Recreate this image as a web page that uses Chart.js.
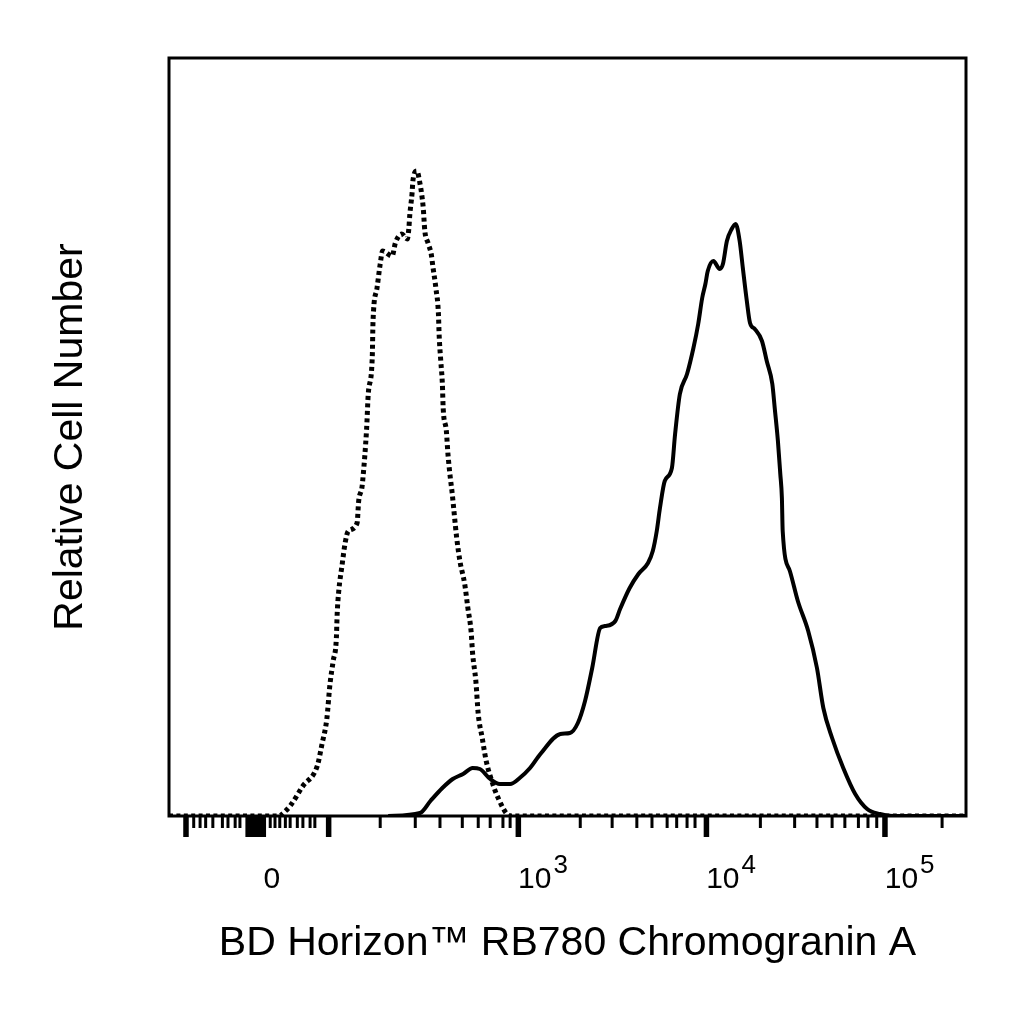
<!DOCTYPE html>
<html lang="en">
  <head>
    <meta charset="UTF-8" />
    <title>RB780 Chromogranin A histogram</title>
    <script src="https://cdn.jsdelivr.net/npm/chart.js@4"></script>
    <style>
      html, body { margin: 0; padding: 0; background: #fff; }
      #wrap { width: 1024px; height: 1024px; }
    </style>
  </head>
  <body>
    <div id="wrap"><canvas id="histChart"></canvas></div>

    <script>
      // x values are display channels (0-1000 across the plot, biexponential axis)
      // y values are relative cell counts

      // isotype control (dotted)
      const isoX = [0, 139, 142, 152, 168, 186, 192, 198, 202, 206, 210, 211, 213, 217, 221, 225,
        236, 238, 242, 243, 248, 250, 255, 256, 261, 265, 268, 280, 284, 292, 299, 301, 302, 305,
        306, 311, 315, 317, 319, 321, 325, 329, 331, 335, 338, 339, 341, 343, 344, 348, 350, 353,
        355, 361, 365, 371, 375, 379, 381, 385, 388, 393, 398, 405, 413, 424, 430, 1000];
      const isoY = [0, 0, 2, 10, 30, 50, 72, 97, 132, 155, 178, 202, 225, 250, 273, 285,
        293, 315, 328, 335, 388, 422, 458, 495, 528, 552, 565, 560, 573, 582, 577, 588, 600, 623,
        635, 645, 632, 622, 608, 585, 573, 562, 550, 527, 503, 480, 455, 432, 408, 385, 362, 338,
        325, 278, 255, 232, 208, 185, 162, 135, 102, 78, 55, 35, 18, 2, 0, 0];

      // Chromogranin A stained (solid)
      const stainX = [275, 315, 328, 343, 356, 369, 381, 390, 403, 415, 428, 440, 453, 466, 491,
        503, 513, 522, 531, 541, 547, 560, 566, 578, 589, 601, 607, 612, 616, 622, 631, 635, 641,
        650, 658, 664, 669, 673, 676, 683, 691, 695, 700, 706, 711, 716, 720, 725, 729, 735, 744,
        750, 757, 760, 764, 767, 769, 770, 779, 789, 802, 813, 821, 832, 846, 861, 876, 892, 908, 1000];
      const stainY = [0, 3, 15, 28, 37, 42, 48, 47, 37, 32, 32, 38, 48, 62, 82,
        83, 93, 115, 148, 188, 190, 195, 207, 228, 242, 253, 265, 285, 308, 335, 348, 382, 422,
        442, 468, 492, 518, 532, 545, 555, 547, 552, 575, 587, 592, 575, 548, 515, 493, 487, 475,
        455, 432, 408, 375, 342, 318, 285, 245, 215, 185, 148, 108, 78, 48, 22, 7, 2, 0, 0];

      // axis decoration
      const majorTicks = [21, 99, 103, 109, 113, 118, 200, 438, 674, 898];
      const minorTicks = [31, 39, 46, 55, 67, 74, 83, 89, 127, 133, 139, 146, 152, 161, 168, 177, 183,
        265, 309, 340, 368, 388, 403, 419, 428, 516, 556, 587, 606, 625, 637, 650, 660,
        742, 785, 813, 832, 848, 865, 877, 888, 970];
      const labelAt = [129, 438, 674, 898];
      const labelBase = ['0', '10', '10', '10'];
      const labelExp = ['', '3', '4', '5'];

      const toPoints = (xs, ys) => xs.map((x, i) => ({ x: x, y: ys[i] }));

      // frame + tick marks + tick labels, all placed with the x scale
      const axisDeco = {
        id: 'axisDeco',
        afterDraw(chart) {
          const { ctx, chartArea } = chart;
          const xs = chart.scales.x;
          const base = chartArea.bottom;
          ctx.save();
          ctx.strokeStyle = '#000';
          ctx.fillStyle = '#000';
          ctx.lineWidth = 3;
          ctx.strokeRect(chartArea.left, chartArea.top, chartArea.right - chartArea.left, chartArea.bottom - chartArea.top);
          minorTicks.forEach(v => {
            const px = xs.getPixelForValue(v);
            ctx.fillRect(px - 1.5, base, 3, 12);
          });
          majorTicks.forEach(v => {
            const px = xs.getPixelForValue(v);
            ctx.fillRect(px - 2.5, base, 5.5, 21);
          });
          ctx.textBaseline = 'alphabetic';
          labelAt.forEach((v, i) => {
            const px = xs.getPixelForValue(v);
            ctx.font = '30px "Liberation Sans", Arial, sans-serif';
            if (!labelExp[i]) {
              ctx.textAlign = 'center';
              ctx.fillText(labelBase[i], px, 888);
            } else {
              ctx.textAlign = 'left';
              ctx.fillText(labelBase[i], px, 888);
              const w = ctx.measureText(labelBase[i]).width;
              ctx.font = '26px "Liberation Sans", Arial, sans-serif';
              ctx.fillText(labelExp[i], px + w + 2, 873);
            }
          });
          ctx.restore();
        }
      };

      window.addEventListener('load', setup);

      function setup() {
        const ctx = document.getElementById('histChart').getContext('2d');
        new Chart(ctx, {
          type: 'line',
          data: {
            datasets: [
              {
                label: 'Isotype control',
                data: toPoints(isoX, isoY),
                borderColor: '#000',
                borderWidth: 5,
                borderDash: [4, 3.4],
                pointRadius: 0,
                fill: false,
                cubicInterpolationMode: 'monotone'
              },
              {
                label: 'Chromogranin A',
                data: toPoints(stainX, stainY),
                borderColor: '#000',
                borderWidth: 4,
                pointRadius: 0,
                fill: false,
                cubicInterpolationMode: 'monotone'
              }
            ]
          },
          options: {
            responsive: true,
            maintainAspectRatio: false,
            animation: false,
            layout: { padding: { top: 58, right: 58, left: 0, bottom: 0 } },
            plugins: { legend: { display: false }, tooltip: { enabled: false } },
            scales: {
              x: {
                type: 'linear',
                min: 0,
                max: 1000,
                grid: { display: false },
                border: { display: false },
                ticks: { display: false },
                title: {
                  display: true,
                  text: 'BD Horizon™ RB780 Chromogranin A',
                  color: '#000',
                  font: { family: '"Liberation Sans", Arial, sans-serif', size: 41 },
                  padding: { top: 0, bottom: 56 }
                },
                afterFit(scale) { scale.height = 208; }
              },
              y: {
                min: 0,
                max: 758,
                grid: { display: false },
                border: { display: false },
                ticks: { display: false },
                title: {
                  display: true,
                  text: 'Relative Cell Number',
                  color: '#000',
                  font: { family: '"Liberation Sans", Arial, sans-serif', size: 41 },
                  padding: { top: 46, bottom: 0 }
                },
                afterFit(scale) { scale.width = 169; }
              }
            }
          },
          plugins: [axisDeco]
        });
      }
    </script>
  </body>
</html>
